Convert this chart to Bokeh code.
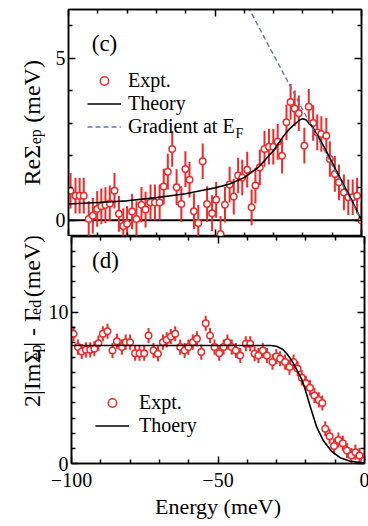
import math
from bokeh.plotting import figure
from bokeh.layouts import column, row
from bokeh.core.properties import value
from bokeh.models import (ColumnDataSource, FixedTicker, LinearAxis, Span, Label,
                          Legend, LegendItem, Range1d)
from bokeh.embed import file_html
from bokeh.resources import INLINE

# ---------------- data ----------------
# panel (c): Re Sigma_ep
re_energy = [-99.3, -97.6, -96.2, -94.8, -93.1, -91.7, -90.2, -88.8, -87.4, -85.9,
             -84.3, -82.8, -81.3, -80.0, -78.3, -76.8, -75.1, -73.7, -72.0, -70.5,
             -68.9, -67.5, -66.1, -64.6, -63.1, -61.5, -60.1, -58.7, -57.2, -55.7,
             -54.2, -52.7, -51.0, -49.6, -48.1, -46.6, -45.0, -43.6, -42.1, -40.7,
             -39.0, -37.5, -36.2, -34.7, -33.1, -31.6, -30.1, -28.6, -27.1, -25.6,
             -24.2, -22.8, -21.4, -19.5, -18.0, -16.5, -15.1, -13.7, -12.0, -10.8,
             -9.1, -7.7, -6.0, -4.5, -3.0, -1.5, 0.0]
re_value = [0.91, 0.76, 0.76, 0.76, 0.04, 0.14, 0.35, 0.43, 0.47, 0.52,
            0.91, 0.20, -0.18, -0.11, 0.27, 0.04, 0.48, 0.33, 0.55, 0.55,
            0.55, 1.04, 1.50, 2.20, 1.02, 0.50, 1.58, 1.25, 0.28, -0.08,
            1.82, 0.50, 0.22, 0.63, -0.42, 0.48, 1.10, 0.73, 1.38, 1.32,
            1.56, 0.40, 1.07, 1.63, 2.20, 2.27, 2.27, 2.42, 1.99, 3.02,
            3.65, 3.45, 3.30, 2.30, 3.50, 3.00, 2.71, 2.66, 2.61, 1.89,
            1.43, 1.17, 0.86, 0.71, 0.71, 0.76, 0.00]
re_err = 0.55
re_theory_energy = [-100, -90, -80, -70, -60, -55, -50, -45, -40, -35, -30, -27, -25,
                    -23, -21, -20, -19, -17, -15, -12.5, -10, -8, -6, -3.5, 0]
re_theory_value = [0.50, 0.55, 0.60, 0.70, 0.82, 0.91, 1.00, 1.12, 1.32, 1.65, 2.15, 2.55, 2.78,
                   2.95, 3.10, 3.13, 3.10, 2.92, 2.62, 2.22, 1.78, 1.42, 1.08, 0.65, 0.00]
grad_energy = [-40.0, 0.0]
grad_value = [6.8, 0.0]

# panel (d): 2|Im Sigma_ep| - Gamma_ed
im_energy = [-99.3, -97.8, -96.5, -95.1, -93.6, -92.2, -90.8, -89.3, -87.7, -86.0,
             -84.5, -82.8, -81.5, -80.0, -78.3, -76.8, -75.2, -73.7, -72.0, -70.5,
             -68.8, -67.5, -66.1, -64.6, -62.9, -61.4, -60.1, -58.6, -57.2, -55.7,
             -54.2, -52.7, -51.2, -49.6, -48.1, -46.8, -45.3, -43.9, -42.4, -40.5,
             -39.0, -37.5, -36.2, -34.7, -33.3, -31.4, -30.1, -28.8, -27.1, -25.6,
             -24.2, -22.8, -21.4, -20.0, -18.6, -17.1, -15.6, -14.4, -13.4, -11.9,
             -10.4, -8.9, -7.4, -6.0, -4.5, -3.1, -1.7, -0.1]
im_value = [8.57, 7.69, 7.40, 7.51, 7.51, 7.58, 7.95, 8.57, 8.74, 7.47,
            8.08, 7.69, 8.02, 8.02, 7.29, 7.29, 7.29, 8.46, 7.47, 7.25,
            8.02, 8.17, 8.39, 8.57, 7.69, 7.47, 7.69, 8.02, 8.24, 7.36,
            9.27, 8.46, 7.69, 7.29, 7.69, 8.02, 7.69, 7.47, 7.14, 7.91,
            7.91, 7.25, 7.14, 7.47, 7.14, 6.70, 7.07, 6.92, 6.70, 6.37,
            6.70, 6.26, 5.66, 5.30, 5.00, 4.50, 4.20, 4.00, 2.30, 1.80,
            1.15, 1.55, 1.34, 0.86, 0.53, 0.75, 0.53, 0.20]
im_err = 0.5
im_theory_energy = [-100, -32, -30, -28, -26.5, -24.8, -23, -21.5, -20.5, -18.5,
                    -16.3, -14, -11.2, -8.3, -4.9, 0]
im_theory_value = [7.8, 7.8, 7.75, 7.55, 7.25, 6.8, 6.15, 5.6, 5.05, 3.75,
                   2.4, 1.5, 0.8, 0.38, 0.15, 0.03]

x_major = [-100, -50, 0]
x_minor = [-90, -80, -70, -60, -40, -30, -20, -10]
re_y_major = [0, 5]
re_y_minor = [1, 2, 3, 4, 6]
im_y_major = [0, 10]
im_y_minor = [1, 2, 3, 4, 5, 6, 7, 8, 9, 11, 12, 13, 14]

# ---------------- style / layout ----------------
FONT = "Liberation Serif"
RED = "#ee2a2a"
BLUE_DASH = "#6478a8"
FW, FH = 293, 227          # frame size of each panel
TW = 45                    # width of the strip carrying the rotated y titles
LEFT = 68 - TW             # left border of the panels (frame starts at x=68)
TOP = 9                    # top border of the upper panel
BOTTOM = 62                # bottom border of the lower panel

# approximate Times-like advance widths (per 1000 em)
W = {'R': 667, 'e': 444, 'Σ': 592, 'p': 500, ' ': 250, '(': 333, 'm': 778, 'V': 722,
     ')': 333, '2': 500, '|': 200, 'I': 333, '-': 333, 'Γ': 579, 'd': 500}


def text_w(s, size):
    return 1.03 * sum(W.get(ch, 500) for ch in s) * size / 1000.0


def conv_top(px, py):
    return (-100 + (px - 68) * 100.0 / FW, -0.5 + (236 - py) * 7.0 / FH)


def conv_bot(px, py):
    return (-100 + (px - 68) * 100.0 / FW, (463 - py) * 15.0 / FH)


def make_fig(yr, border_top, border_bottom):
    p = figure(frame_width=FW, frame_height=FH, x_range=Range1d(-100, 0),
               y_range=Range1d(*yr), output_backend="svg", toolbar_location=None,
               x_axis_location=None, y_axis_location=None,
               min_border_left=LEFT, min_border_right=7, min_border_top=border_top,
               min_border_bottom=border_bottom, background_fill_color="white",
               border_fill_color="white", outline_line_color="black",
               outline_line_width=1.5)
    p.grid.visible = False
    return p


def add_axis(p, side, ticker, labels, axis_label=None):
    ax = LinearAxis(ticker=ticker, axis_line_color="black", axis_line_width=1.5,
                    major_tick_line_color="black", major_tick_line_width=1.5,
                    minor_tick_line_color="black", minor_tick_line_width=1.5,
                    major_tick_in=7, major_tick_out=0, minor_tick_in=4, minor_tick_out=0)
    if labels:
        ax.major_label_text_font = FONT
        ax.major_label_text_font_size = "20px"
        ax.major_label_text_color = "black"
        ax.major_label_standoff = 3
    else:
        ax.major_label_text_font_size = "1px"
        ax.major_label_text_color = None
        ax.major_label_standoff = 0
    if axis_label:
        ax.major_label_standoff = 9
        ax.axis_label = axis_label
        ax.axis_label_text_font = FONT
        ax.axis_label_text_font_size = "22px"
        ax.axis_label_text_font_style = "normal"
        ax.axis_label_text_color = "black"
        ax.axis_label_standoff = 4
    p.add_layout(ax, side)


def title_strip(height, page_top, pieces, base_px, start_py):
    """Narrow figure left of a panel; its data space equals page pixels.
    The rotated y title is drawn there piece by piece (subscripts smaller)."""
    t = figure(width=TW, height=height, x_range=Range1d(0, TW),
               y_range=Range1d(page_top + height, page_top),
               output_backend="svg", toolbar_location=None,
               x_axis_location=None, y_axis_location=None,
               min_border_left=0, min_border_right=0, min_border_top=0,
               min_border_bottom=0, outline_line_color=None,
               background_fill_color="white", border_fill_color="white")
    t.grid.visible = False
    xs, ys, txt, sizes = [], [], [], []
    py = start_py
    for text, size, shift in pieces:
        lead = len(text) - len(text.lstrip(" "))
        py -= lead * W[' '] * size / 1000.0
        text = text.lstrip(" ")
        xs.append(base_px + shift)
        ys.append(py)
        txt.append(text)
        sizes.append(f"{size}px")
        py -= text_w(text, size) + 0.8
    src = ColumnDataSource(dict(x=xs, y=ys, text=txt, size=sizes))
    t.text(x="x", y="y", text="text", source=src, angle=math.pi / 2,
           text_font=value(FONT), text_font_size="size", text_align="left",
           text_baseline="alphabetic", text_color="black")
    return t


xt = FixedTicker(ticks=x_major, minor_ticks=x_minor)

# ---------------- panel (c) ----------------
p1 = make_fig((-0.5, 6.5), TOP, 0)
yt1 = FixedTicker(ticks=re_y_major, minor_ticks=re_y_minor)
add_axis(p1, "left", yt1, True)
add_axis(p1, "right", yt1, False)
add_axis(p1, "below", xt, False)
add_axis(p1, "above", xt, False)

p1.add_layout(Span(location=0, dimension="width", line_color="black", line_width=2,
                   level="underlay"))

src1 = ColumnDataSource(dict(x=re_energy, y=re_value,
                             lo=[v - re_err for v in re_value],
                             hi=[v + re_err for v in re_value]))
p1.segment(x0="x", y0="lo", x1="x", y1="hi", source=src1, line_color=RED, line_width=2)
p1.scatter("x", "y", source=src1, marker="circle", size=6.5, fill_color="white",
           line_color=RED, line_width=1.5)
th1 = p1.line(re_theory_energy, re_theory_value, line_color="black", line_width=1.6)
gr1 = p1.line(grad_energy, grad_value, line_color=BLUE_DASH, line_width=1.4, line_dash="5 3")
key1 = p1.scatter([float("nan")], [float("nan")], marker="circle", size=10,
                  fill_color="white", line_color=RED, line_width=1.5)

leg1 = Legend(items=[LegendItem(label="Expt.", renderers=[key1]),
                     LegendItem(label="Theory", renderers=[th1]),
                     LegendItem(label="Gradient at E", renderers=[gr1])],
              location=(19, 98), glyph_width=34, glyph_height=21, label_height=21,
              label_standoff=7, spacing=0, padding=0, margin=0,
              label_text_font=FONT, label_text_font_size="20px", label_text_color="black",
              background_fill_alpha=0, border_line_alpha=0)
p1.add_layout(leg1)
fx, fy = conv_top(235, 133)
p1.add_layout(Label(x=fx, y=fy, text="F", text_font=FONT, text_font_size="14px",
                    text_baseline="alphabetic", text_color="black"))

cx, cy = conv_top(104, 43)
p1.add_layout(Label(x=cx, y=cy, text="(c)", text_font=FONT, text_font_size="23px",
                    text_align="center", text_baseline="middle", text_color="black"))

t1 = title_strip(TOP + FH, 0, [("ReΣ", 24, 0), ("ep", 16, 4), (" (meV)", 24, 0)],
                 31, 183)

# ---------------- panel (d) ----------------
p2 = make_fig((0, 15), 0, BOTTOM)
yt2 = FixedTicker(ticks=im_y_major, minor_ticks=im_y_minor)
add_axis(p2, "left", yt2, True)
add_axis(p2, "right", yt2, False)
add_axis(p2, "below", xt, True, axis_label="Energy (meV)")
add_axis(p2, "above", xt, False)

src2 = ColumnDataSource(dict(x=im_energy, y=im_value,
                             lo=[v - im_err for v in im_value],
                             hi=[v + im_err for v in im_value]))
p2.segment(x0="x", y0="lo", x1="x", y1="hi", source=src2, line_color=RED, line_width=2)
p2.scatter("x", "y", source=src2, marker="circle", size=6.5, fill_color="white",
           line_color=RED, line_width=1.5)
th2 = p2.line(im_theory_energy, im_theory_value, line_color="black", line_width=1.6)
key2 = p2.scatter([float("nan")], [float("nan")], marker="circle", size=10,
                  fill_color="white", line_color=RED, line_width=1.5)

leg2 = Legend(items=[LegendItem(label="Expt.", renderers=[key2]),
                     LegendItem(label="Thoery", renderers=[th2])],
              location=(24, 26), glyph_width=34, glyph_height=21, label_height=21,
              label_standoff=10, spacing=0, padding=0, margin=0,
              label_text_font=FONT, label_text_font_size="20px", label_text_color="black",
              background_fill_alpha=0, border_line_alpha=0)
p2.add_layout(leg2)

dx, dy = conv_bot(102, 260)
p2.add_layout(Label(x=dx, y=dy, text="(d)", text_font=FONT, text_font_size="23px",
                    text_align="center", text_baseline="middle", text_color="black"))

t2 = title_strip(FH + BOTTOM, TOP + FH,
                 [("2|ImΣ", 24, 0), ("ep", 16, 4), ("| - Γ", 24, 0), ("ed", 16, 4),
                  (" (meV)", 24, 0)], 31, 453)

layout = column(row(t1, p1), row(t2, p2))
open("out.html", "w").write(file_html(layout, INLINE, title="chart"))
